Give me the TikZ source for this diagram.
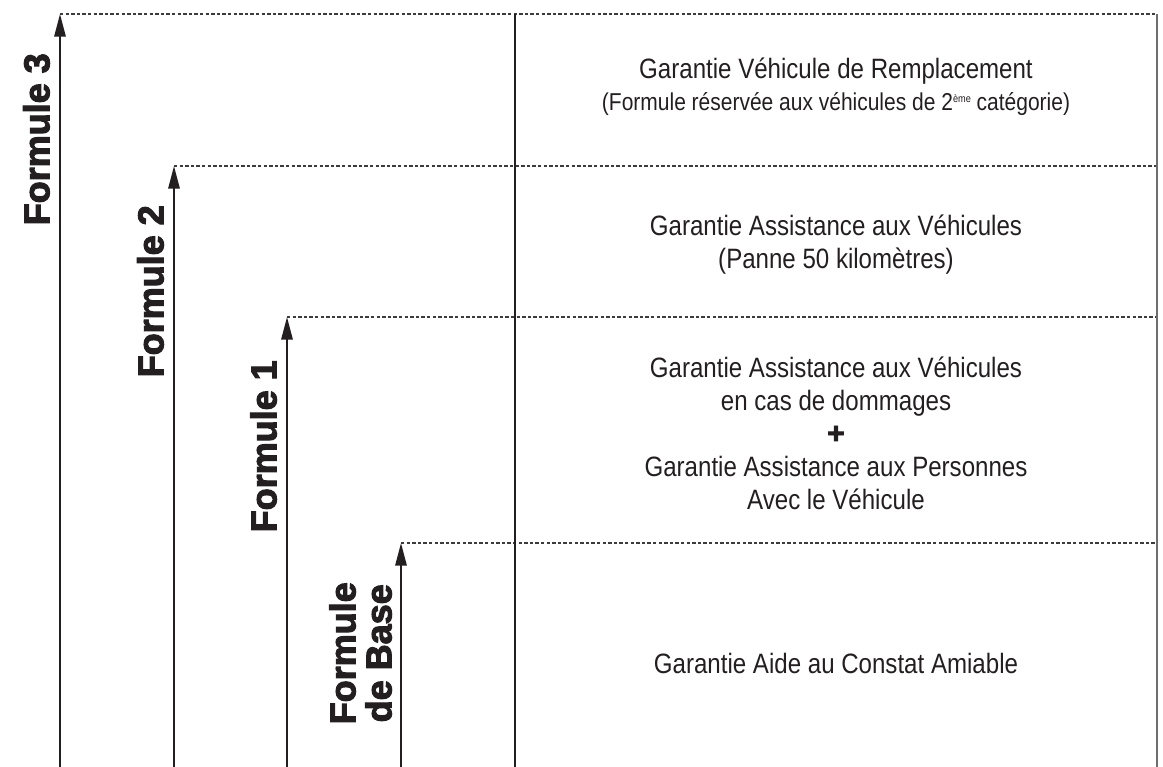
\documentclass[tikz,border=0pt]{standalone}
\usepackage{fontspec}
\setmainfont{Liberation Sans}
\newfontfamily\narrowfont[FakeStretch=0.86]{Liberation Sans}
\newfontfamily\heavyfont[FakeBold=3]{Liberation Sans Bold}
\usetikzlibrary{arrows.meta,calc}
\definecolor{inkdark}{HTML}{231F20}
\definecolor{dashgray}{HTML}{3C3C3C}
\definecolor{edgegray}{HTML}{6E6E6E}

\begin{document}
\begin{tikzpicture}[x=0.75pt,y=-0.75pt,
  level/.style={line width=1.5pt, draw=inkdark, -{Triangle[length=17pt,width=8.5pt]}},
  limit/.style={draw=dashgray, line width=0.8pt, dash pattern=on 2.6pt off 1.6pt},
  formlabel/.style={rotate=90, anchor=south east, inner sep=0pt, text=inkdark,
    align=center, font=\heavyfont\fontsize{27}{27}\selectfont},
  garantie/.style={text=inkdark, align=center, inner sep=0pt,
    font=\narrowfont\fontsize{21}{24.75}\selectfont}
]

% Fix the page size
\useasboundingbox (0,0) rectangle (1163,767);

% Define the foot and the tip of each formula arrow
\coordinate (base3) at (60,767);
\coordinate (tip3) at (60,14);
\coordinate (base2) at (174,767);
\coordinate (tip2) at (174,166);
\coordinate (base1) at (287,767);
\coordinate (tip1) at (287,317);
\coordinate (base0) at (401,767);
\coordinate (tip0) at (401,543);

% Define the two vertical rules
\coordinate (midtop) at (515,14);
\coordinate (midbot) at (515,767);
\coordinate (edgetop) at (1157,14);
\coordinate (edgebot) at (1157,767);

% Draw the dashed level lines
\draw[limit] (tip3) -- (tip3 -| edgetop);
\draw[limit] (tip2) -- (tip2 -| edgetop);
\draw[limit] (tip1) -- (tip1 -| edgetop);
\draw[limit] (tip0) -- (tip0 -| edgetop);

% Draw the vertical rules
\draw[line width=1.1pt, inkdark] (midtop) -- (midbot);
\draw[line width=1.1pt, edgegray] (edgetop) -- (edgebot);

% Draw the formula arrows
\draw[level] (base3) -- (tip3);
\draw[level] (base2) -- (tip2);
\draw[level] (base1) -- (tip1);
\draw[level] (base0) -- (tip0);

% Label the arrows (rotated to run along them)
\node[formlabel] (lab3) at ($(tip3)+(-10,39)$) {Formule 3};
\node[formlabel] (lab2) at ($(tip2)+(-10,39)$) {Formule 2};
\node[formlabel] (lab1) at ($(tip1)+(-10,43)$) {Formule 1};
\node[formlabel] (lab0) at ($(tip0)+(-9,39)$) {Formule\\de Base};

% Write the guarantees of each level
\node[garantie] (gar3) at (836,87) {Garantie Véhicule de Remplacement\\[-1pt]
  {\fontsize{18.3}{20}\selectfont (Formule réservée aux véhicules de
  2\raisebox{6pt}{\fontsize{8}{8}\selectfont ème} catégorie)}};
\node[garantie] (gar2) at (836,245) {Garantie Assistance aux Véhicules\\(Panne 50 kilomètres)};
\node[garantie] (gar1) at (836,433) {Garantie Assistance aux Véhicules\\en cas de dommages\\
  {\heavyfont\fontsize{22}{22}\selectfont +}\\Garantie Assistance aux Personnes\\Avec le Véhicule};
\node[garantie] (gar0) at (836,663) {Garantie Aide au Constat Amiable};

\end{tikzpicture}
\end{document}
